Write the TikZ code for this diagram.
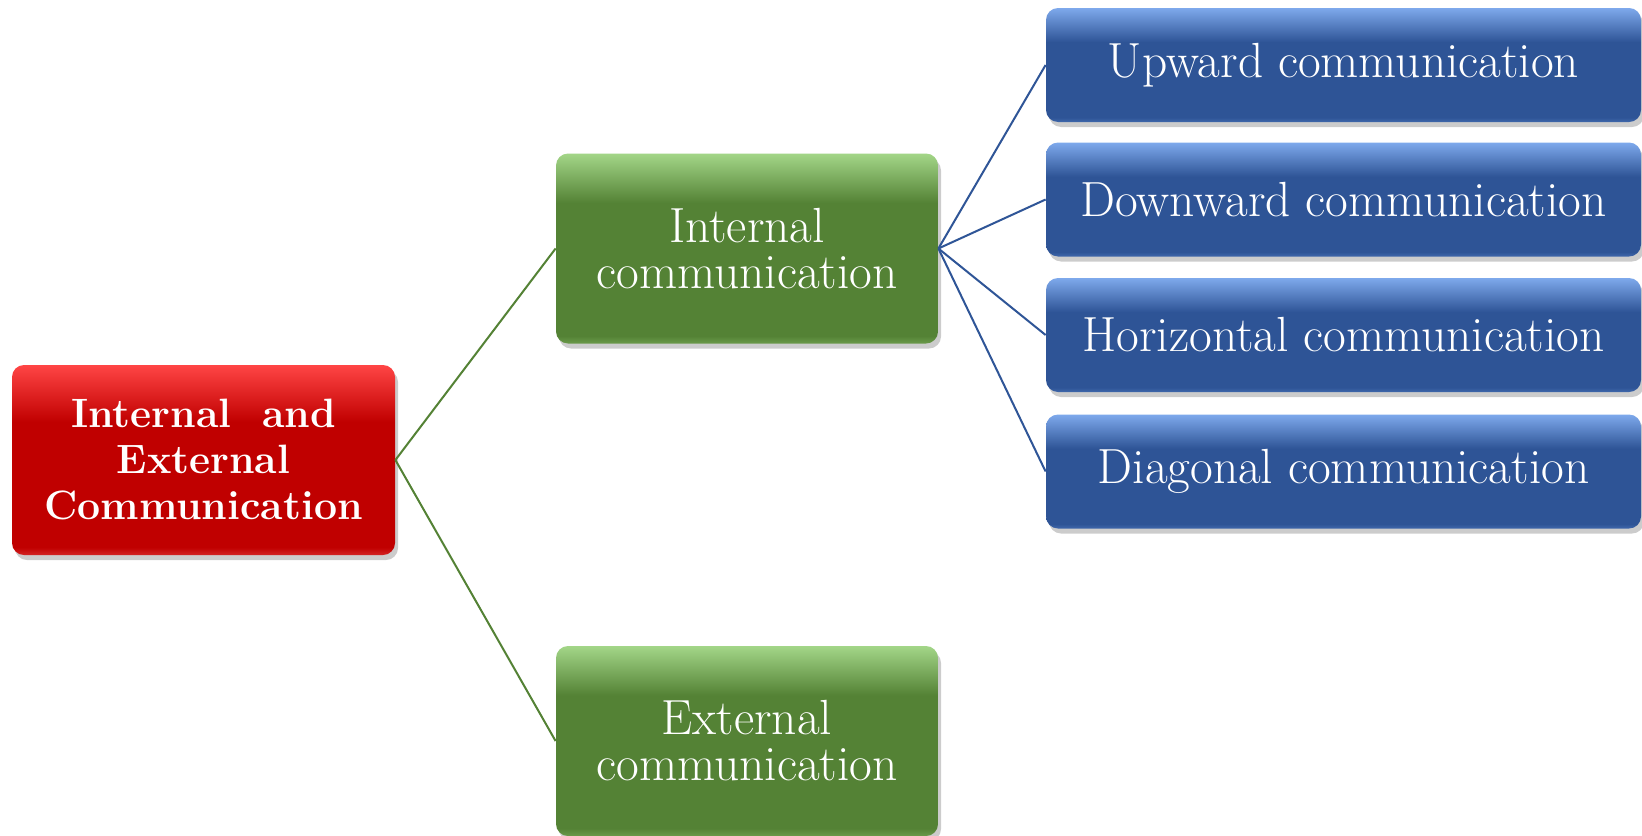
\documentclass[tikz,border=0pt]{standalone}
\usepackage{fontspec}
\setmainfont{Latin Modern Roman}
\usetikzlibrary{shadows}
\definecolor{redbase}{HTML}{C00000}
\definecolor{redtop}{HTML}{FF4545}
\definecolor{redbot}{HTML}{D42424}
\definecolor{greenbase}{HTML}{548235}
\definecolor{greentop}{HTML}{A3D688}
\definecolor{greenbot}{HTML}{6A9A4A}
\definecolor{bluebase}{HTML}{2E5496}
\definecolor{bluetop}{HTML}{7EA9EC}
\definecolor{bluebot}{HTML}{4068AC}
\definecolor{greenline}{HTML}{548235}
\definecolor{blueline}{HTML}{2F5597}
\pgfdeclareverticalshading{redsh}{100bp}{color(0bp)=(redbot); color(25bp)=(redbot); color(27bp)=(redbase); color(60bp)=(redbase); color(75bp)=(redtop); color(100bp)=(redtop)}
\pgfdeclareverticalshading{greensh}{100bp}{color(0bp)=(greenbot); color(25bp)=(greenbot); color(27bp)=(greenbase); color(62bp)=(greenbase); color(75bp)=(greentop); color(100bp)=(greentop)}
\pgfdeclareverticalshading{bluesh}{100bp}{color(0bp)=(bluebot); color(25bp)=(bluebot); color(27bp)=(bluebase); color(60bp)=(bluebase); color(75bp)=(bluetop); color(100bp)=(bluetop)}
\tikzset{
  boxbase/.style={rounded corners=6pt, inner sep=0pt, text=white, align=center,
    drop shadow={shadow xshift=1.5pt, shadow yshift=-2.5pt, opacity=0.2, fill=black}},
  rootbox/.style={boxbase, shading=redsh, minimum width=191.5pt, minimum height=95pt,
    font=\fontsize{20.5}{23}\selectfont\bfseries},
  midbox/.style={boxbase, shading=greensh, minimum width=191pt, minimum height=95pt,
    font=\fontsize{24.7}{23}\selectfont},
  leafbox/.style={boxbase, shading=bluesh, minimum width=297.5pt, minimum height=57pt,
    font=\fontsize{24.7}{23}\selectfont},
  gline/.style={draw=greenline, line width=1pt},
  bline/.style={draw=blueline, line width=1pt}
}
\begin{document}
\begin{tikzpicture}[x=0.5pt,y=-0.5pt]
\useasboundingbox[fill=white] (0,0) rectangle (1642,835);
\node[rootbox] (root) at (203.5,460) {Internal\ \ and\\External\\Communication};
\node[midbox] (int) at (747,248.5) {Internal\\communication};
\node[midbox] (ext) at (747,741) {External\\communication};
\node[leafbox] (up) at (1343.5,65) {Upward communication};
\node[leafbox] (down) at (1343.5,199.5) {Downward communication};
\node[leafbox] (hor) at (1343.5,335) {Horizontal communication};
\node[leafbox] (diag) at (1343.5,471.5) {Diagonal communication};
\draw[gline] (root.east) -- (int.west);
\draw[gline] (root.east) -- (ext.west);
\draw[bline] (int.east) -- (up.west);
\draw[bline] (int.east) -- (down.west);
\draw[bline] (int.east) -- (hor.west);
\draw[bline] (int.east) -- (diag.west);
\end{tikzpicture}
\end{document}
